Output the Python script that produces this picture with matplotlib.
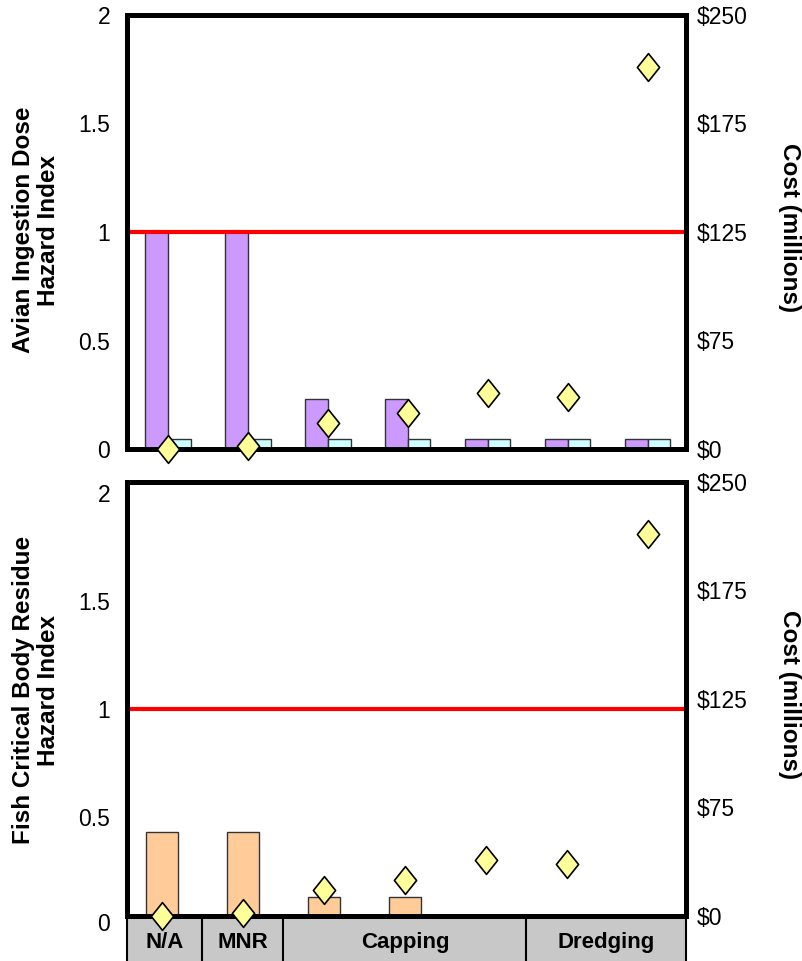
import numpy as np
import matplotlib
matplotlib.use("Agg")
import matplotlib.pyplot as plt
from matplotlib.path import Path

plt.rcParams['font.family'] = ['Liberation Sans', 'DejaVu Sans']

# seven remedial alternatives along x
alts = ["N/A", "MNR", "Capping A", "Capping B", "Capping C", "Dredging A", "Dredging B"]
avian_hi_1 = [1.0, 1.0, 0.23, 0.23, 0.045, 0.045, 0.045]      # purple bars
avian_hi_2 = [0.045, 0.045, 0.045, 0.045, 0.045, 0.045, 0.045]  # cyan bars
fish_hi = [0.43, 0.43, 0.13, 0.13, 0.0, 0.0, 0.0]               # orange bars
cost = [0, 2, 18, 25, 39, 36, 214]                              # $ millions

# category row under the lower chart
cat_labels = ["N/A", "MNR", "Capping", "Dredging"]
cat_bounds = [0.5, 1.5, 4.5]

# cost axis labels sit next to the hazard ticks
hi_ticks = [0, 0.5, 1, 1.5, 2]
cost_ticks = [0, 75, 125, 175, 250]


def to_hi(c):
    return np.interp(c, [-750] + cost_ticks + [1000], [-5] + hi_ticks + [7])


def to_cost(h):
    return np.interp(h, [-5] + hi_ticks + [7], [-750] + cost_ticks + [1000])


# tall diamond marker
diamond = Path([(0, 1), (0.8, 0), (0, -1), (-0.8, 0), (0, 1)],
               [Path.MOVETO, Path.LINETO, Path.LINETO, Path.LINETO, Path.CLOSEPOLY])

PURPLE = "#CC99FF"
CYAN = "#CCFFFF"
ORANGE = "#FFCC99"
YELLOW = "#FFFF99"
EDGE = "#333333"
SPINE_W = 3.6
TICK_FS = 16.5
LABEL_FS = 17.5

W, H = 802, 961
fig = plt.figure(figsize=(W / 100, H / 100), dpi=100, facecolor="w")
L, AW = 127 / W, 559 / W
ax_top = fig.add_axes([L, 1 - 449 / H, AW, 434 / H])
ax_bot = fig.add_axes([L, 1 - 916 / H, AW, 434 / H])
ax_cat = fig.add_axes([L, 0, AW, 45 / H])

x = np.arange(len(alts))


def style(ax, ylim, ticks):
    ax.set_ylim(*ylim)
    ax.set_yticks(ticks)
    ax.set_yticklabels([f"{t:g}" for t in ticks])
    ax.set_xticks([])
    ax.tick_params(axis="y", length=0, pad=12, labelsize=TICK_FS)
    for s in ax.spines.values():
        s.set_linewidth(SPINE_W)
    ax.axhline(1, color="red", lw=3, zorder=3)


def cost_axis(ax):
    ax2 = ax.twinx()
    ax2.set_yscale("function", functions=(to_hi, to_cost))
    ax2.set_ylim(0, 250)
    ax2.set_yticks(cost_ticks)
    ax2.set_yticklabels([f"${c}" for c in cost_ticks])
    ax2.yaxis.set_minor_locator(plt.NullLocator())
    ax2.tick_params(axis="y", length=0, pad=8, labelsize=TICK_FS)
    for s in ax2.spines.values():
        s.set_linewidth(SPINE_W)
    ax2.plot(x, cost, linestyle="none", marker=diamond, ms=20, mfc=YELLOW,
             mec="black", mew=1.2, clip_on=False, zorder=5)
    return ax2


# upper chart: avian ingestion dose
bw = 0.285
ax_top.bar(x, avian_hi_1, width=-bw, align="edge", color=PURPLE, edgecolor=EDGE, lw=1, zorder=2)
ax_top.bar(x, avian_hi_2, width=bw, align="edge", color=CYAN, edgecolor=EDGE, lw=1, zorder=2)
style(ax_top, (0, 2), hi_ticks)
ax_top.set_xlim(-0.51, 6.48)
t2 = cost_axis(ax_top)
t2.set_xlim(-0.51, 6.48)

# lower chart: fish critical body residue
fx = [xi for xi, v in zip(x, fish_hi) if v > 0]
fv = [v for v in fish_hi if v > 0]
ax_bot.bar(fx, fv, width=0.4, color=ORANGE, edgecolor=EDGE, lw=1, zorder=2)
style(ax_bot, (0.04, 2.05), hi_ticks[1:])
# the zero label of the lower chart sits just under its frame
ax_bot.text(-17 / 559, 0, "0", transform=ax_bot.get_yaxis_transform(),
            ha="right", va="center", fontsize=TICK_FS, clip_on=False)
ax_bot.set_xlim(-0.43, 6.47)
b2 = cost_axis(ax_bot)
b2.set_xlim(-0.43, 6.47)

# category row
ax_cat.set_facecolor("#C8C8C8")
ax_cat.set_xlim(-0.43, 6.47)
ax_cat.set_ylim(0, 1)
ax_cat.set_xticks([])
ax_cat.set_yticks([])
for side in ["top", "bottom"]:
    ax_cat.spines[side].set_visible(False)
for side in ["left", "right"]:
    ax_cat.spines[side].set_linewidth(1.5)
edges = [-0.43] + cat_bounds + [6.47]
for b in cat_bounds:
    ax_cat.axvline(b, color="black", lw=1.5)
for i, lab in enumerate(cat_labels):
    ax_cat.text((edges[i] + edges[i + 1]) / 2, 0.42, lab, ha="center", va="center",
                fontsize=16, fontweight="bold")

# axis titles
fig.text(36 / W, 1 - 230 / H, "Avian Ingestion Dose\nHazard Index", rotation=90,
         ha="center", va="center", fontsize=LABEL_FS, fontweight="bold", linespacing=1.1)
fig.text(36 / W, 1 - 690 / H, "Fish Critical Body Residue\nHazard Index", rotation=90,
         ha="center", va="center", fontsize=LABEL_FS, fontweight="bold", linespacing=1.1)
fig.text(790 / W, 1 - 228 / H, "Cost (millions)", rotation=270,
         ha="center", va="center", fontsize=LABEL_FS, fontweight="bold")
fig.text(790 / W, 1 - 695 / H, "Cost (millions)", rotation=270,
         ha="center", va="center", fontsize=LABEL_FS, fontweight="bold")

fig.savefig("out.png", dpi=100)
plt.close(fig)
